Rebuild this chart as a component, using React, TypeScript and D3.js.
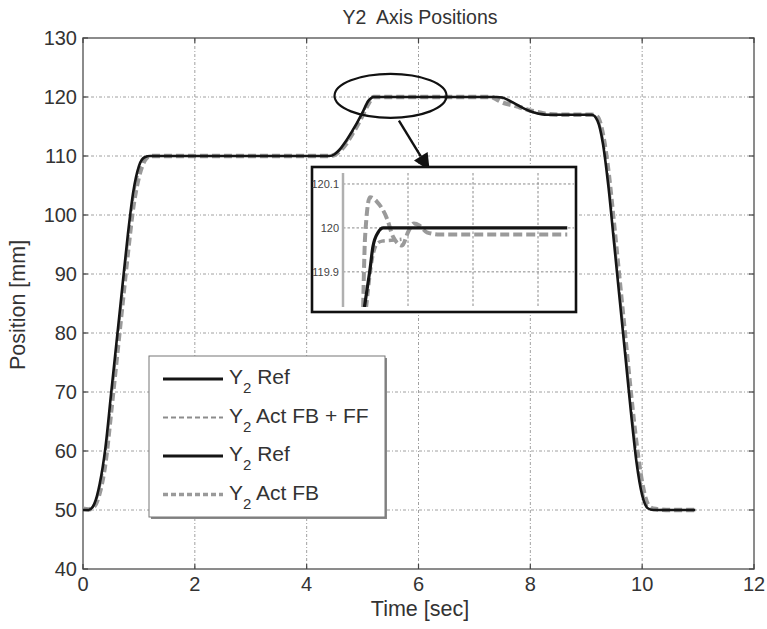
import React from "react"
import * as d3 from "d3"

// main plot: time [sec] and positions [mm]
const time = [0, 0.1, 0.2, 0.3, 0.4, 0.5, 0.6, 0.7, 0.8, 0.9, 1.0, 1.1, 1.2, 2, 3, 4, 4.4, 4.5, 4.6, 4.7, 4.8, 4.9, 5.0, 5.1, 5.2, 5.3, 6, 7, 7.3, 7.4, 7.5, 7.6, 7.7, 7.8, 7.9, 8.0, 8.1, 8.2, 8.3, 8.5, 9.0, 9.1, 9.2, 9.3, 9.4, 9.5, 9.6, 9.7, 9.8, 9.9, 10.0, 10.1, 10.2, 10.5, 10.95]
const y2Ref = [50, 50, 51, 54.5, 60.5, 69.5, 78.5, 87.5, 96.5, 104, 108.3, 109.8, 110, 110, 110, 110, 110, 110.3, 111.2, 112.5, 114, 115.6, 117.4, 119.3, 120, 120, 120, 120, 120, 120, 119.9, 119.5, 119, 118.5, 118, 117.6, 117.3, 117.1, 117, 117, 117, 117, 116, 112, 104.5, 95, 85.5, 76, 66.5, 58, 52.5, 50.3, 50, 50, 50]
const y2ActFBFF = [50, 50, 50.8, 53.8, 59.3, 68, 77, 86, 95, 102.8, 107.4, 109.5, 110, 110, 110, 110, 110, 110.25, 111, 112.2, 113.7, 115.3, 117.1, 119, 120, 120, 120, 120, 120, 120, 119.8, 119.4, 118.9, 118.4, 118, 117.6, 117.3, 117.1, 117, 117, 117, 117, 116.3, 112.8, 105.8, 96.5, 87, 77.5, 68, 59.5, 53.5, 50.6, 50.1, 50, 50]
const y2ActFB = [50.2, 50.1, 50.6, 53, 58, 66.5, 75.5, 84.5, 93.5, 101.5, 106.5, 109.2, 110, 110, 110, 110, 110, 110.2, 110.9, 112, 113.5, 115.1, 116.9, 118.8, 120, 120, 120, 120, 120, 119.6, 119.1, 118.8, 118.6, 118.3, 118, 117.7, 117.5, 117.3, 117.1, 117, 117, 117, 116.6, 113.5, 107, 98, 88.5, 79, 69.5, 61, 54.5, 51, 50.2, 50, 50]

const xTicks = [0, 2, 4, 6, 8, 10, 12]
const yTicks = [40, 50, 60, 70, 80, 90, 100, 110, 120, 130]

// zoomed inset around the step to 120 mm
const insetTime = [5.133, 5.137, 5.1415, 5.146, 5.154, 5.162, 5.2, 5.3, 5.445]
const insetRef = [119.82, 119.86, 119.905, 119.957, 119.99, 120.0, 120.0, 120.0, 120.0]
const insetFBTime = [5.131, 5.134, 5.1415, 5.152, 5.168, 5.177, 5.191, 5.2, 5.209, 5.218, 5.229, 5.249, 5.445]
const insetFB = [119.82, 119.98, 120.07, 120.06, 120.02, 119.98, 119.96, 119.99, 120.01, 120.005, 119.99, 119.985, 119.985]
const insetFBFFTime = [5.136, 5.145, 5.153, 5.16, 5.175, 5.19]
const insetFBFF = [119.82, 119.93, 119.965, 119.97, 119.972, 119.974]
const insetYTicks = [119.9, 120, 120.1]
const insetXGrid = [5.2, 5.3, 5.4]

const legendItems = [
  { label: "Ref", kind: "ref" },
  { label: "Act FB + FF", kind: "fbff" },
  { label: "Ref", kind: "ref" },
  { label: "Act FB", kind: "fb" },
]

const W = 767
const H = 629
const m = { left: 83, right: 754, top: 38, bottom: 569 }

const lineStyle = {
  ref: { stroke: "#151515", width: 2.6, dash: "none" },
  fbff: { stroke: "#8c8c8c", width: 2, dash: "6,4" },
  fb: { stroke: "#9a9a9a", width: 4.5, dash: "8,4" },
}

const gridDash = "3,2,1,2"
const narrow = "'Liberation Sans Narrow', 'Arial Narrow', 'Liberation Sans', Arial, sans-serif"
const sans = "'Liberation Sans', Arial, Helvetica, sans-serif"

export default function App() {
  const x = d3.scaleLinear().domain([0, 12]).range([m.left, m.right])
  const y = d3.scaleLinear().domain([40, 130]).range([m.bottom, m.top])

  const mk = (xs: number[], ys: number[]) =>
    d3
      .line<number>()
      .x((_, i) => x(xs[i]))
      .y((d) => y(d))
      .curve(d3.curveMonotoneX)(ys) || ""

  // inset geometry
  const box = { x0: 312, x1: 576, y0: 167, y1: 312 }
  const ix = d3.scaleLinear().domain([5.1, 5.5]).range([343, 603])
  const iy = d3.scaleLinear().domain([119.82, 120.125]).range([307, 173])
  const mkI = (xs: number[], ys: number[]) =>
    d3
      .line<number>()
      .x((_, i) => ix(xs[i]))
      .y((d) => iy(d))
      .curve(d3.curveMonotoneX)(ys) || ""

  // ellipse + arrow annotation anchored in data space
  const ecx = x(5.5)
  const ecy = y(120.2)
  const arrowFrom: [number, number] = [x(5.65), y(116)]
  const arrowTo: [number, number] = [x(6.2), y(107.5)]
  const ang = Math.atan2(arrowTo[1] - arrowFrom[1], arrowTo[0] - arrowFrom[0])
  const ah = 17
  const aw = 8
  const headBase: [number, number] = [arrowTo[0] - ah * Math.cos(ang), arrowTo[1] - ah * Math.sin(ang)]
  const headPts = [
    arrowTo,
    [headBase[0] + aw * Math.sin(ang), headBase[1] - aw * Math.cos(ang)],
    [headBase[0] - aw * Math.sin(ang), headBase[1] + aw * Math.cos(ang)],
  ]

  const lg = { x0: 149, x1: 385, y0: 356, y1: 517, lineX0: 163, lineX1: 223, textX: 229, row0: 379, step: 38.5 }

  return (
    <svg
      width={W}
      height={H}
      viewBox={`0 0 ${W} ${H}`}
      style={{ display: "block", position: "absolute", left: 0, top: 0, background: "#fff" }}
    >
      <defs>
        <clipPath id="plotClip">
          <rect x={m.left} y={m.top} width={m.right - m.left} height={m.bottom - m.top} />
        </clipPath>
        <clipPath id="insetClip">
          <rect x={343} y={173} width={box.x1 - 343 - 2} height={307 - 173} />
        </clipPath>
      </defs>

      {/* title */}
      <text x={420} y={24} textAnchor="middle" fontFamily={narrow} fontSize={19.5} fill="#333" style={{ whiteSpace: "pre" }}>
        {"Y2  Axis Positions"}
      </text>

      {/* grid */}
      <g stroke="#a0a0a0" strokeWidth={1} strokeDasharray={gridDash}>
        {xTicks.slice(1, -1).map((t) => (
          <line key={"gx" + t} x1={x(t)} x2={x(t)} y1={m.top} y2={m.bottom} />
        ))}
        {yTicks.slice(1, -1).map((t) => (
          <line key={"gy" + t} x1={m.left} x2={m.right} y1={y(t)} y2={y(t)} />
        ))}
      </g>

      {/* frame + ticks */}
      <rect x={m.left} y={m.top} width={m.right - m.left} height={m.bottom - m.top} fill="none" stroke="#666" strokeWidth={1.5} />
      <g stroke="#444" strokeWidth={1.2}>
        {xTicks.map((t) => (
          <g key={"tx" + t}>
            <line x1={x(t)} x2={x(t)} y1={m.bottom} y2={m.bottom - 5} />
            <line x1={x(t)} x2={x(t)} y1={m.top} y2={m.top + 5} />
          </g>
        ))}
        {yTicks.map((t) => (
          <g key={"ty" + t}>
            <line x1={m.left} x2={m.left + 5} y1={y(t)} y2={y(t)} />
            <line x1={m.right} x2={m.right - 5} y1={y(t)} y2={y(t)} />
          </g>
        ))}
      </g>

      {/* tick labels */}
      <g fontFamily={narrow} fontSize={20} fill="#333">
        {xTicks.map((t) => (
          <text key={"lx" + t} x={Math.min(x(t), W - 13)} y={m.bottom + 22} textAnchor="middle">
            {t}
          </text>
        ))}
        {yTicks.map((t) => (
          <text key={"ly" + t} x={m.left - 6} y={y(t) + 7} textAnchor="end">
            {t}
          </text>
        ))}
      </g>

      {/* axis labels */}
      <text x={420} y={616} textAnchor="middle" fontFamily={narrow} fontSize={21.5} fill="#333">
        Time [sec]
      </text>
      <text
        transform={`translate(25,${305}) rotate(-90)`}
        textAnchor="middle"
        fontFamily={narrow}
        fontSize={21.5}
        fill="#333"
      >
        Position [mm]
      </text>

      {/* data lines */}
      <g clipPath="url(#plotClip)" fill="none" strokeLinejoin="round">
        <path d={mk(time, y2ActFB)} stroke={lineStyle.fb.stroke} strokeWidth={lineStyle.fb.width} strokeDasharray={lineStyle.fb.dash} />
        <path d={mk(time, y2ActFBFF)} stroke={lineStyle.fbff.stroke} strokeWidth={lineStyle.fbff.width} strokeDasharray={lineStyle.fbff.dash} />
        <path d={mk(time, y2Ref)} stroke={lineStyle.ref.stroke} strokeWidth={lineStyle.ref.width} />
      </g>

      {/* ellipse + arrow */}
      <ellipse cx={ecx} cy={ecy} rx={56} ry={22} fill="none" stroke="#111" strokeWidth={2.2} />
      <line x1={arrowFrom[0]} y1={arrowFrom[1]} x2={headBase[0]} y2={headBase[1]} stroke="#111" strokeWidth={2.4} />
      <polygon points={headPts.map((p) => p.join(",")).join(" ")} fill="#111" />

      {/* inset */}
      <rect x={box.x0} y={box.y0} width={box.x1 - box.x0} height={box.y1 - box.y0} fill="#fff" stroke="#111" strokeWidth={2.6} />
      <g stroke="#8a8a8a" strokeWidth={1} strokeDasharray="2.5,2">
        {insetYTicks.map((t) => (
          <line key={"iy" + t} x1={343} x2={box.x1 - 2} y1={iy(t)} y2={iy(t)} />
        ))}
        {insetXGrid.map((t) => (
          <line key={"ix" + t} x1={ix(t)} x2={ix(t)} y1={173} y2={307} />
        ))}
      </g>
      <line x1={343} x2={343} y1={173} y2={307} stroke="#b0b0b0" strokeWidth={2.5} />
      <g fontFamily={narrow} fontSize={11} fill="#444">
        {insetYTicks.map((t) => (
          <text key={"il" + t} x={339} y={iy(t) + 4} textAnchor="end">
            {t}
          </text>
        ))}
      </g>
      <g clipPath="url(#insetClip)" fill="none" strokeLinejoin="round">
        <path d={mkI(insetFBFFTime, insetFBFF)} stroke="#999" strokeWidth={3.5} strokeDasharray="7,4" />
        <path d={mkI(insetFBTime, insetFB)} stroke="#9a9a9a" strokeWidth={4} strokeDasharray="9,4" />
        <path d={mkI(insetTime, insetRef)} stroke="#151515" strokeWidth={3.2} />
      </g>

      {/* legend */}
      <rect x={lg.x0 + 2} y={lg.y0 + 2} width={lg.x1 - lg.x0} height={lg.y1 - lg.y0} fill="#888" />
      <rect x={lg.x0} y={lg.y0} width={lg.x1 - lg.x0} height={lg.y1 - lg.y0} fill="#fff" stroke="#777" strokeWidth={1} />
      {legendItems.map((it, i) => {
        const st = lineStyle[it.kind as keyof typeof lineStyle]
        const ly = lg.row0 + i * lg.step
        return (
          <g key={"lg" + i}>
            <line
              x1={lg.lineX0}
              x2={lg.lineX1}
              y1={ly}
              y2={ly}
              stroke={st.stroke}
              strokeWidth={it.kind === "fb" ? 3.5 : it.kind === "fbff" ? 2 : 3}
              strokeDasharray={it.kind === "fb" ? "5,3" : it.kind === "fbff" ? "5,3" : "none"}
            />
            <text x={lg.textX} y={ly + 5} fontFamily={sans} fontSize={21} fill="#333">
              Y
              <tspan fontSize={15} dy={9}>
                2
              </tspan>
              <tspan dy={-9}>{" " + it.label}</tspan>
            </text>
          </g>
        )
      })}
    </svg>
  )
}
